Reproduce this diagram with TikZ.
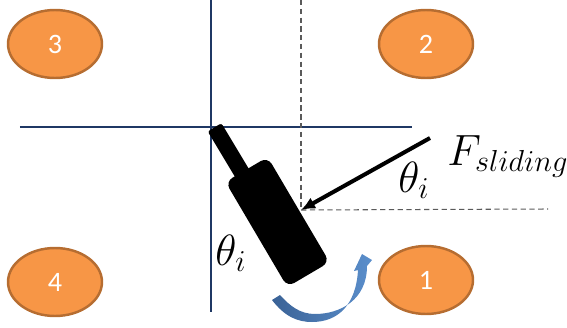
\documentclass[tikz,border=0pt]{standalone}
\usepackage{fontspec}
\usepackage{xcolor}
\usepackage{tikz}
\usetikzlibrary{shapes.geometric,arrows.meta}
\newfontfamily\zonefont{Carlito}
\definecolor{RBOrange}{HTML}{F79646}
\definecolor{RBEdge}{HTML}{B66D31}
\definecolor{RBNavy}{HTML}{1F3864}
\definecolor{RBBlue}{HTML}{5B8FCC}
\definecolor{RBBlueDark}{HTML}{3A6296}
\definecolor{RBDash}{HTML}{5A5A5A}
\tikzset{
  zone/.style={ellipse,draw=RBEdge,line width=1.4pt,fill=RBOrange,minimum width=1.88cm,minimum height=1.36cm,inner sep=0pt,text=white,font=\zonefont\fontsize{16}{16}\selectfont},
  axisline/.style={RBNavy,line width=1pt},
  guide/.style={RBDash,line width=0.6pt,dash pattern=on 3pt off 2pt},
  robotpart/.style={fill=black,inner sep=0pt},
  bigmath/.style={inner sep=0pt,font=\fontsize{25}{25}\selectfont}
}

\begin{document}
\begin{tikzpicture}[x=1cm,y=1cm]
\path[use as bounding box] (0,0) rectangle (11.34,6.54);
\node[zone] (zone3) at (1.10,5.66) {3};
\node[zone] (zone2) at (8.52,5.66) {2};
\node[zone] (zone4) at (1.10,0.90) {4};
\node[zone] (zone1) at (8.52,0.94) {1};
\coordinate (vtop) at (4.22,6.54);
\coordinate (vbot) at (4.22,0.30);
\coordinate (hleft) at (0.40,4.00);
\coordinate (hright) at (8.24,4.00);
\draw[axisline] (vtop) -- (vbot);
\draw[axisline] (hleft) -- (hright);
\node[robotpart,rounded corners=0.16cm,minimum width=0.98cm,minimum height=2.44cm,rotate=30.5] (body) at (5.55,2.10) {};
\node[robotpart,rounded corners=0.05cm,minimum width=0.32cm,minimum height=1.2cm,rotate=31] (stick) at (4.60,3.48) {};
\coordinate (contact) at (6.02,2.34);
\coordinate (dtop) at (6.02,6.54);
\coordinate (dright) at (10.96,2.36);
\coordinate (fstart) at (8.60,3.78);
\draw[guide] (dtop) -- (contact);
\draw[guide] (contact) -- (dright);
\draw[line width=2.3pt,-{Latex[length=8pt,width=7pt]}] (fstart) -- (contact);
\node[bigmath,anchor=base west] (force) at (8.94,3.24) {$F_{sliding}$};
\node[bigmath,anchor=base west] (angleforce) at (7.96,2.70) {$\theta_i$};
\node[bigmath,anchor=base west] (anglerobot) at (4.30,1.24) {$\theta_i$};
\shade[left color=RBBlueDark,right color=RBBlue] (5.44,0.54) .. controls (5.70,0.20) and (5.96,0.10) .. (6.24,0.10) .. controls (6.76,0.10) and (7.12,0.44) .. (7.16,1.14) -- (7.08,1.12) -- (7.24,1.46) -- (7.44,1.34) -- (7.34,1.22) .. controls (7.34,0.54) and (6.80,0.26) .. (6.30,0.26) .. controls (6.00,0.26) and (5.80,0.42) .. (5.60,0.64) -- cycle;
\end{tikzpicture}
\end{document}
